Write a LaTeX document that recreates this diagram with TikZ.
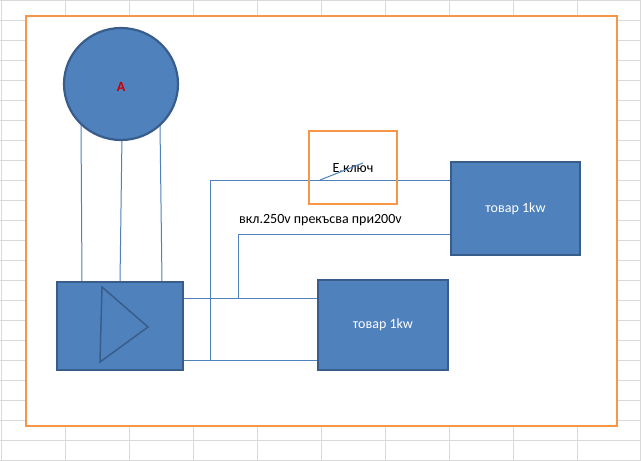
\documentclass[tikz,border=0pt]{standalone}
\usepackage{fontspec}
\setmainfont{Carlito}
\usetikzlibrary{shapes.geometric}
\definecolor{bfill}{HTML}{4F81BD}
\definecolor{bdraw}{HTML}{385D8A}
\definecolor{org}{HTML}{F79646}
\definecolor{gridc}{HTML}{D9D9D9}
\begin{document}
\begin{tikzpicture}[x=1pt,y=-1pt,
  blk/.style={draw=bdraw,line width=2.2pt,fill=bfill},
  wire/.style={draw=bfill,line width=1pt},
  obox/.style={draw=org,line width=2.5pt},
  lbl/.style={font=\fontsize{14}{16}\selectfont}]
\useasboundingbox (0,0) rectangle (641,461);
\foreach \x in {1,65,129,193,257,321,385,449,513,577,640} \draw[gridc,line width=0.5pt] (\x,0) -- (\x,461);
\foreach \y in {0,20,...,460} \draw[gridc,line width=0.5pt] (0,\y) -- (641,\y);
\fill[white] (26,16) rectangle (617,426);
\draw[obox] (26,16) rectangle (617,426);
% wires
\coordinate (t1) at (210,180); \coordinate (t2) at (210,360);
\coordinate (m1) at (238,298); \coordinate (m2) at (238,234);
\draw[wire] (t2) -- (t1) -- (451,180);
\draw[wire] (183,360) -- (318,360);
\draw[wire] (183,298) -- (318,298);
\draw[wire] (m1) -- (m2) -- (451,234);
% motor wires
\draw[wire] (81,125) -- (82,282);
\draw[wire] (122,135) -- (120,282);
\draw[wire] (160,125) -- (162,282);
\draw[blk] (121,84) ellipse (57 and 56);
\node[text=red!80!black,font=\bfseries\fontsize{14}{16}\selectfont] (a) at (121,87) {A};
\node[blk,minimum width=126,minimum height=88,inner sep=0] (gen) at (120,326) {};
\draw[draw=bdraw,line width=1.5pt] (102,287) -- (148,327) -- (100,362) -- cycle;
% switch
\draw[obox] (309,131) rectangle (397,204);
\node[lbl] (k) at (353,168) {Е.ключ};
\draw[wire] (320,180) -- (363,163);
\node[lbl,anchor=west,inner sep=0] (txt) at (239,220) {вкл.250v прекъсва при200v};
% loads
\node[blk,minimum width=129,minimum height=93,inner sep=0,text=white,lbl] (l1) at (515.5,208.5) {товар 1kw};
\node[blk,minimum width=130,minimum height=90,inner sep=0,text=white,lbl] (l2) at (383,325) {товар 1kw};
\end{tikzpicture}
\end{document}
